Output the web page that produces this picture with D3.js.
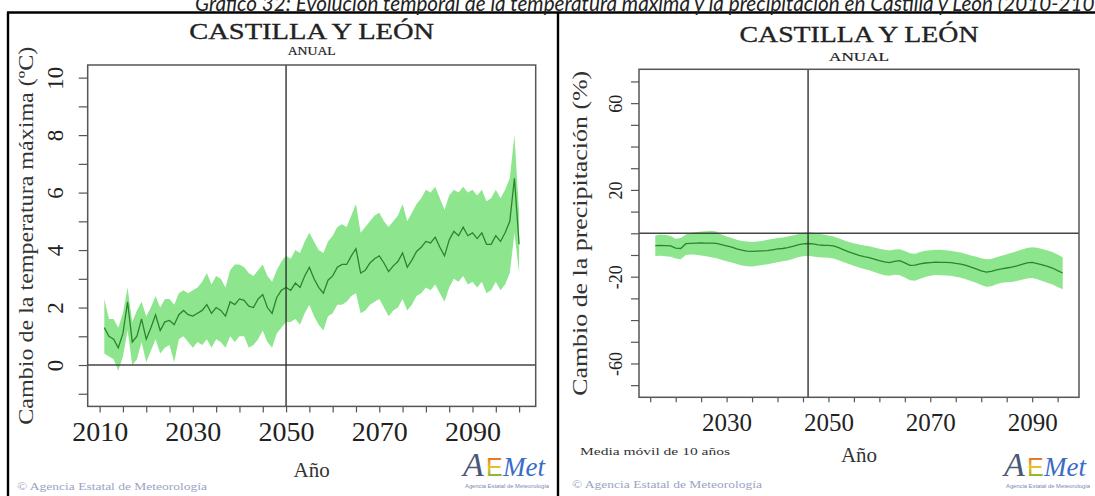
<!DOCTYPE html>
<html><head><meta charset="utf-8">
<script src="https://cdn.jsdelivr.net/npm/d3@7"></script>
<style>html,body{margin:0;padding:0;background:#fff;}svg{display:block;}</style>
</head><body>
<script>
// ---------- DATA ----------
const tempYears = d3.range(2011, 2101);
const tempMean = [1.3,1.0,0.9,0.6,1.1,2.2,0.8,1.0,1.6,0.9,
  1.3,1.75,1.2,1.5,1.55,1.4,1.75,1.9,1.75,1.7,
  1.8,1.9,2.1,1.8,2.0,1.9,1.7,2.2,2.1,2.3,
  2.25,2.05,2.0,2.3,2.45,2.0,1.8,2.35,2.6,2.7,
  2.6,2.85,2.7,3.1,3.4,3.0,2.7,2.5,2.95,3.1,
  3.4,3.5,3.5,3.8,4.05,3.2,3.3,3.55,3.7,3.8,
  3.55,3.25,3.45,3.6,3.9,3.4,3.65,3.95,4.1,4.3,
  4.25,4.45,4.1,3.8,4.35,4.65,4.5,4.8,4.5,4.6,
  4.4,4.6,4.2,4.2,4.5,4.3,4.6,5.0,6.5,4.2];
const tempUpper = [2.3,1.6,1.6,1.3,1.8,2.7,1.5,1.9,2.2,1.7,
  2.0,2.4,2.0,2.3,2.3,2.1,2.5,2.6,2.5,2.6,
  2.7,2.9,3.2,2.8,3.1,3.0,2.7,3.3,3.5,3.5,
  3.4,3.2,3.1,3.3,3.5,3.1,2.9,3.3,3.6,3.8,
  3.7,4.0,3.9,4.3,4.6,4.3,4.0,3.9,4.3,4.5,
  4.8,4.9,4.8,5.2,5.6,4.6,4.8,5.0,5.2,5.3,
  5.0,4.8,5.0,5.2,5.6,5.0,5.3,5.6,5.8,6.1,
  6.0,6.2,5.8,5.4,5.9,6.1,6.0,6.2,6.0,6.1,
  5.9,6.1,5.7,5.8,6.1,5.8,6.1,6.5,8.0,5.3];
const tempLower = [0.4,0.3,0.2,-0.2,0.3,1.2,0.0,0.2,0.8,0.1,
  0.5,0.9,0.4,0.6,0.7,0.1,0.9,1.0,0.8,0.6,
  0.8,0.7,0.9,0.6,0.9,0.8,0.6,1.0,0.8,1.0,
  1.0,0.6,0.7,0.9,1.2,0.8,0.6,1.1,1.3,1.5,
  1.5,1.6,1.4,1.8,2.1,1.7,1.4,1.2,1.7,1.8,
  2.1,2.1,2.2,2.4,2.5,1.8,1.9,2.1,2.2,2.3,
  2.0,1.7,1.9,2.0,2.3,1.9,2.1,2.4,2.5,2.7,
  2.6,2.8,2.5,2.2,2.7,3.0,2.9,3.1,2.8,2.9,
  2.7,2.9,2.5,2.6,2.9,2.6,2.8,3.2,4.6,3.2];

const precYears = d3.range(2016, 2097);
const precMean = [-5.7,-5.6,-5.7,-5.8,-6.8,-7.0,-4.8,-4.6,-4.5,-4.4,
  -4.5,-4.5,-4.6,-5.2,-5.8,-6.4,-7.2,-7.8,-8.2,-8.3,
  -8.2,-8.1,-8.0,-7.6,-7.2,-7.0,-6.6,-6.0,-5.3,-4.9,
  -4.7,-4.9,-5.3,-5.5,-5.6,-5.8,-6.6,-7.6,-8.6,-9.4,
  -10.2,-10.8,-11.2,-11.9,-12.6,-13.2,-13.5,-12.9,-12.6,-13.6,
  -14.8,-14.7,-14.1,-13.7,-13.5,-13.3,-13.4,-13.4,-13.5,-13.9,
  -14.2,-14.8,-15.6,-16.4,-17.3,-17.9,-17.6,-16.9,-16.4,-16.0,
  -15.6,-15.0,-14.3,-13.6,-13.4,-14.0,-14.6,-15.3,-16.0,-17.2,-18.3];
const precUpper = [-1.0,-0.6,-0.8,-1.2,-2.5,-2.2,-0.5,0.2,0.5,0.8,
  1.0,1.2,0.8,-0.5,-1.5,-2.2,-3.0,-3.5,-3.8,-4.0,
  -3.8,-3.5,-3.0,-2.6,-2.2,-1.9,-1.5,-1.0,-0.4,0.2,
  0.5,0.3,-0.2,-0.6,-1.0,-1.5,-2.3,-3.2,-4.0,-4.6,
  -5.2,-5.6,-6.0,-6.6,-7.1,-7.6,-7.9,-7.5,-7.3,-8.2,
  -9.2,-9.4,-8.6,-8.0,-7.8,-7.6,-7.6,-7.8,-8.0,-8.5,
  -8.9,-9.5,-10.2,-10.8,-11.5,-12.0,-11.8,-11.0,-10.3,-9.6,
  -9.0,-8.3,-7.5,-6.8,-6.4,-6.7,-7.2,-7.9,-8.6,-9.8,-11.0];
const precLower = [-10.5,-10.3,-10.6,-10.8,-11.6,-12.0,-10.0,-9.8,-9.9,-10.2,
  -10.6,-11.0,-11.5,-12.2,-12.9,-13.5,-14.2,-14.8,-15.2,-15.3,
  -15.0,-14.6,-14.3,-13.8,-13.3,-12.9,-12.5,-11.8,-11.0,-10.6,
  -10.4,-10.7,-11.0,-11.2,-11.3,-11.6,-12.4,-13.3,-14.2,-15.0,
  -15.8,-16.5,-17.0,-17.8,-18.6,-19.3,-19.6,-19.1,-19.3,-20.4,
  -21.6,-21.9,-21.0,-20.2,-19.6,-19.2,-19.3,-19.5,-19.6,-20.0,
  -20.5,-21.2,-22.0,-22.8,-23.8,-24.6,-24.4,-23.5,-22.8,-22.6,
  -22.4,-22.0,-21.4,-20.8,-20.6,-21.2,-22.0,-22.8,-23.6,-24.8,-25.8];

const tempXTicks = d3.range(2010, 2101, 5);
const tempXLabels = [2010, 2030, 2050, 2070, 2090];
const tempYTicks = d3.range(-1, 11, 1);
const tempYLabels = [0, 2, 4, 6, 8, 10];
const precXTicks = d3.range(2015, 2096, 5);
const precXLabels = [2030, 2050, 2070, 2090];
const precYTicks = d3.range(-70, 71, 10);
const precYLabels = [-60, -20, 20, 60];

const pageTitle = "Gráfico 32: Evolución temporal de la temperatura máxima y la precipitación en Castilla y León (2010-2100)";
const chartTitle = "CASTILLA Y LEÓN";
const chartSubtitle = "ANUAL";
const tempYTitle = "Cambio de la temperatura máxima (ºC)";
const precYTitle = "Cambio de la precipitación (%)";
const xTitle = "Año";
const movingNote = "Media móvil de 10 años";
const copyright = "© Agencia Estatal de Meteorología";
const logoSub = "Agencia Estatal de Meteorología";

// ---------- DRAW ----------
const W = 1095, H = 496;
const svg = d3.select("body").append("svg").attr("width", W).attr("height", H);
svg.append("rect").attr("width", W).attr("height", H).attr("fill", "#fff");

const defs = svg.append("defs");
const grad = defs.append("linearGradient").attr("id", "egrad").attr("x1", 0).attr("y1", 0).attr("x2", 0).attr("y2", 1);
grad.append("stop").attr("offset", "0%").attr("stop-color", "#d84a2a");
grad.append("stop").attr("offset", "50%").attr("stop-color", "#f0c020");
grad.append("stop").attr("offset", "100%").attr("stop-color", "#5aa83c");

const SERIF = "'Liberation Serif','DejaVu Serif',serif";
const BAND = "#8de68d";
const LINE = "#2a862a";

function panel(cfg) {
  const g = svg.append("g");
  const x = d3.scaleLinear().domain(cfg.xDomain).range(cfg.xRange);
  const y = d3.scaleLinear().domain(cfg.yDomain).range(cfg.yRange);
  const [x0, x1] = cfg.xRange, [yb, yt] = cfg.yRange;

  const area = d3.area().x((d, i) => x(cfg.years[i])).y0((d, i) => y(cfg.lower[i])).y1((d, i) => y(cfg.upper[i]));
  g.append("path").datum(cfg.years).attr("d", area).attr("fill", BAND);
  const line = d3.line().x((d, i) => x(cfg.years[i])).y((d) => y(d));
  g.append("path").datum(cfg.mean).attr("d", line).attr("fill", "none").attr("stroke", LINE).attr("stroke-width", 1.3);

  g.append("line").attr("x1", x0).attr("x2", x1).attr("y1", y(0)).attr("y2", y(0)).attr("stroke", "#444").attr("stroke-width", 1.4);
  g.append("line").attr("x1", x(cfg.vline)).attr("x2", x(cfg.vline)).attr("y1", yt).attr("y2", yb).attr("stroke", "#333").attr("stroke-width", 1.4);

  g.append("rect").attr("x", x0).attr("y", yt).attr("width", x1 - x0).attr("height", yb - yt)
    .attr("fill", "none").attr("stroke", "#555").attr("stroke-width", 1.5);

  const xa = g.append("g").attr("transform", `translate(0,${yb})`)
    .call(d3.axisBottom(x).tickValues(cfg.xTicks).tickSize(cfg.xTickLen).tickSizeOuter(0)
      .tickFormat(d => cfg.xLabels.includes(d) ? String(d) : ""));
  xa.select(".domain").remove();
  xa.selectAll(".tick line").attr("stroke", "#555").attr("stroke-width", 1.2);
  xa.selectAll(".tick text").attr("font-family", SERIF).attr("font-size", cfg.xFont).attr("fill", "#222")
    .attr("dy", null).attr("y", cfg.xLabBase - yb);

  const ya = g.append("g").attr("transform", `translate(${x0},0)`)
    .call(d3.axisLeft(y).tickValues(cfg.yTicks).tickSize(cfg.yTickLen).tickSizeOuter(0)
      .tickFormat(d => cfg.yLabels.includes(d) ? String(d) : ""));
  ya.select(".domain").remove();
  ya.selectAll(".tick line").attr("stroke", "#555").attr("stroke-width", 1.2);
  ya.selectAll(".tick text").attr("font-family", SERIF).attr("font-size", cfg.yFont).attr("fill", "#222")
    .attr("transform", "rotate(-90)").attr("x", 0).attr("dy", null).attr("y", -cfg.yLabOff).attr("text-anchor", "middle");

  const cx = (x0 + x1) / 2;
  g.append("text").attr("x", cx).attr("y", cfg.titleBase).attr("text-anchor", "middle")
    .attr("font-family", SERIF).attr("font-size", cfg.titleFont).attr("fill", "#222")
    .attr("stroke", "#222").attr("stroke-width", 0.35)
    .attr("textLength", cfg.titleLen).attr("lengthAdjust", "spacingAndGlyphs").text(chartTitle);
  g.append("text").attr("x", cx).attr("y", cfg.subBase).attr("text-anchor", "middle")
    .attr("font-family", SERIF).attr("font-size", 12).attr("fill", "#222")
    .attr("stroke", "#222").attr("stroke-width", 0.2)
    .attr("textLength", cfg.subLen).attr("lengthAdjust", "spacingAndGlyphs").text(chartSubtitle);
  const cy = (yt + yb) / 2;
  g.append("text").attr("transform", `translate(${cfg.yTitleBase},${cy}) rotate(-90)`).attr("text-anchor", "middle")
    .attr("font-family", SERIF).attr("font-size", cfg.yTitleFont).attr("fill", "#333")
    .attr("textLength", cfg.yTitleLen).attr("lengthAdjust", "spacingAndGlyphs").text(cfg.yTitle);
  g.append("text").attr("x", cx).attr("y", cfg.xTitleBase).attr("text-anchor", "middle")
    .attr("font-family", SERIF).attr("font-size", 21).attr("fill", "#333").text(xTitle);
  return g;
}

panel({
  years: tempYears, mean: tempMean, upper: tempUpper, lower: tempLower,
  xDomain: [2007.44, 2103.56], xRange: [87.7, 535.7],
  yDomain: [-1.44, 10.44], yRange: [406.4, 65],
  vline: 2050, xTicks: tempXTicks, xLabels: tempXLabels, yTicks: tempYTicks, yLabels: tempYLabels,
  xTickLen: 6, yTickLen: 9, xFont: 28, xLabBase: 441, yFont: 23, yLabOff: 25,
  titleBase: 39, titleFont: 24, titleLen: 245, subBase: 55, subLen: 48,
  yTitle: tempYTitle, yTitleBase: 33, yTitleFont: 22, yTitleLen: 378, xTitleBase: 477
});

panel({
  years: precYears, mean: precMean, upper: precUpper, lower: precLower,
  xDomain: [2012.8, 2099.2], xRange: [639, 1079],
  yDomain: [-75.6, 75.6], yRange: [397.3, 69.3],
  vline: 2046, xTicks: precXTicks, xLabels: precXLabels, yTicks: precYTicks, yLabels: precYLabels,
  xTickLen: 5, yTickLen: 8, xFont: 25, xLabBase: 431, yFont: 18, yLabOff: 17,
  titleBase: 42, titleFont: 24, titleLen: 239, subBase: 61, subLen: 60,
  yTitle: precYTitle, yTitleBase: 587, yTitleFont: 20, yTitleLen: 325, xTitleBase: 462
});

svg.append("text").attr("x", 580).attr("y", 455).attr("font-family", SERIF).attr("font-size", 11)
  .attr("fill", "#333").attr("textLength", 150).attr("lengthAdjust", "spacingAndGlyphs").text(movingNote);
[[17, 490], [572, 488]].forEach(([px, py]) => {
  svg.append("text").attr("x", px).attr("y", py).attr("font-family", SERIF).attr("font-size", 10.5)
    .attr("fill", "#9aa4c2").attr("textLength", 190).attr("lengthAdjust", "spacingAndGlyphs").text(copyright);
});

// AEMET logos
function logo(px, py) {
  const g = svg.append("g").attr("transform", `translate(${px},${py})`);
  g.append("text").attr("x", 0).attr("y", 0).attr("font-family", "'Liberation Serif',serif").attr("font-style", "italic")
    .attr("font-size", 34).attr("fill", "#4a5878").text("A");
  g.append("text").attr("x", 23).attr("y", 0).attr("font-family", "'Liberation Sans',sans-serif")
    .attr("font-size", 25).attr("fill", "url(#egrad)").text("E");
  g.append("text").attr("x", 40).attr("y", 0).attr("font-family", "'Liberation Serif',serif").attr("font-style", "italic")
    .attr("font-size", 27).attr("fill", "#3a6cc8").text("Met");
  g.append("text").attr("x", 2).attr("y", 12).attr("font-family", "'Liberation Sans',sans-serif")
    .attr("font-size", 4.5).attr("fill", "#7a88b0").attr("textLength", 84).attr("lengthAdjust", "spacingAndGlyphs").text(logoSub);
}
logo(463, 476);
logo(1004, 476);

// panel frame
const frame = svg.append("g").attr("stroke", "#000").attr("stroke-width", 2.4);
frame.append("line").attr("x1", 7).attr("x2", W).attr("y1", 12.5).attr("y2", 12.5);
frame.append("line").attr("x1", 8).attr("x2", 8).attr("y1", 12).attr("y2", H);
frame.append("line").attr("x1", 558).attr("x2", 558).attr("y1", 12).attr("y2", H);

const tt = svg.append("text").attr("x", 195).attr("y", 10.5).attr("font-family", "Lato,'Open Sans',sans-serif")
  .attr("font-style", "italic").attr("font-size", 14).attr("fill", "#222").text(pageTitle);
const visiblePart = pageTitle.slice(0, pageTitle.indexOf("(2010-210") + 9);
const L = tt.node().getSubStringLength(0, visiblePart.length);
tt.attr("font-size", 14 * 900 / L);
</script>
</body></html>
